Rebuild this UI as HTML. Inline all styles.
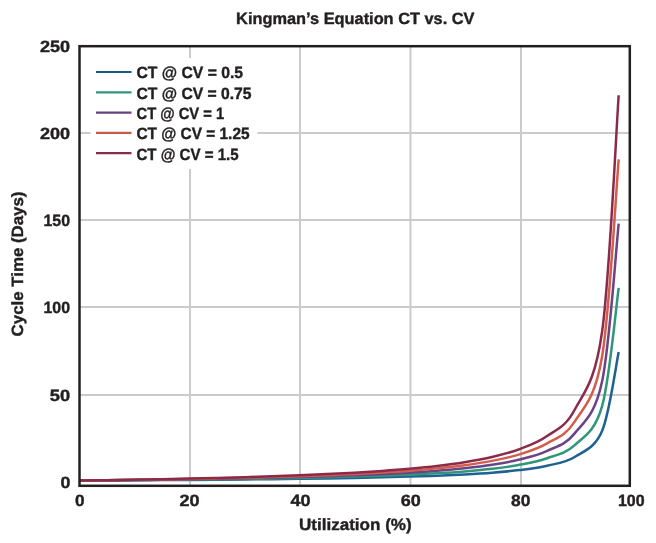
<!DOCTYPE html>
<html><head><meta charset="utf-8">
<style>
html,body{margin:0;padding:0;background:#fff;overflow:hidden;}
svg{display:block;will-change:transform;}
text{font-family:"Liberation Sans",sans-serif;font-weight:bold;fill:#231f20;text-rendering:geometricPrecision;stroke:#231f20;stroke-width:0.4px;}
</style></head><body>
<svg width="656" height="543" viewBox="0 0 656 543">
<rect width="656" height="543" fill="#fff"/>
<g stroke="#cbcbcb" stroke-width="2"><line x1="190" y1="46" x2="190" y2="486"/><line x1="300" y1="46" x2="300" y2="486"/><line x1="410.5" y1="46" x2="410.5" y2="486"/><line x1="521" y1="46" x2="521" y2="486"/><line x1="79" y1="395" x2="630" y2="395"/><line x1="79" y1="307" x2="630" y2="307"/><line x1="79" y1="220" x2="630" y2="220"/><line x1="79" y1="133" x2="630" y2="133"/></g>
<g fill="none" stroke-width="2.5" stroke-linejoin="round">
<path d="M79.20,480.55 C83.79,480.53 97.55,480.46 106.72,480.41 C115.90,480.37 125.08,480.32 134.25,480.26 C143.43,480.21 152.60,480.15 161.78,480.09 C170.95,480.03 180.12,479.97 189.30,479.90 C198.48,479.83 207.65,479.76 216.82,479.68 C226.00,479.60 235.18,479.52 244.35,479.43 C253.53,479.34 262.70,479.25 271.88,479.14 C281.05,479.04 290.22,478.93 299.40,478.81 C308.57,478.68 317.75,478.55 326.93,478.41 C336.10,478.26 345.27,478.11 354.45,477.93 C363.62,477.75 372.80,477.57 381.98,477.35 C391.15,477.13 400.32,476.90 409.50,476.62 C418.68,476.34 427.85,476.05 437.02,475.68 C446.20,475.32 455.37,474.94 464.55,474.44 C473.72,473.94 482.90,473.42 492.07,472.69 C501.25,471.96 510.43,471.23 519.60,470.07 C528.77,468.90 537.95,467.88 547.12,465.70 C556.30,463.51 565.47,462.79 574.65,456.96 C583.83,451.14 594.84,448.22 602.18,430.75 C609.52,413.27 615.94,365.22 618.69,352.11" stroke="#1d6292"/>
<path d="M79.20,480.55 C83.79,480.52 97.55,480.42 106.72,480.35 C115.90,480.27 125.08,480.20 134.25,480.12 C143.43,480.03 152.60,479.95 161.78,479.86 C170.95,479.77 180.12,479.67 189.30,479.57 C198.48,479.47 207.65,479.36 216.82,479.24 C226.00,479.12 235.18,479.00 244.35,478.87 C253.53,478.73 262.70,478.59 271.88,478.44 C281.05,478.28 290.22,478.11 299.40,477.93 C308.57,477.75 317.75,477.55 326.93,477.34 C336.10,477.12 345.27,476.89 354.45,476.62 C363.62,476.36 372.80,476.07 381.98,475.75 C391.15,475.42 400.32,475.07 409.50,474.65 C418.68,474.24 427.85,473.80 437.02,473.25 C446.20,472.70 455.37,472.13 464.55,471.38 C473.72,470.63 482.90,469.85 492.07,468.76 C501.25,467.66 510.43,466.57 519.60,464.82 C528.77,463.08 537.95,461.55 547.12,458.27 C556.30,455.00 565.47,453.90 574.65,445.17 C583.83,436.43 594.84,432.06 602.18,405.85 C609.52,379.63 615.94,307.55 618.69,287.89" stroke="#30967a"/>
<path d="M79.20,480.55 C83.79,480.51 97.55,480.37 106.72,480.28 C115.90,480.18 125.08,480.08 134.25,479.97 C143.43,479.86 152.60,479.75 161.78,479.63 C170.95,479.51 180.12,479.38 189.30,479.24 C198.48,479.10 207.65,478.96 216.82,478.81 C226.00,478.65 235.18,478.48 244.35,478.31 C253.53,478.13 262.70,477.94 271.88,477.73 C281.05,477.52 290.22,477.30 299.40,477.06 C308.57,476.81 317.75,476.55 326.93,476.26 C336.10,475.97 345.27,475.66 354.45,475.31 C363.62,474.96 372.80,474.58 381.98,474.14 C391.15,473.71 400.32,473.24 409.50,472.69 C418.68,472.13 427.85,471.54 437.02,470.82 C446.20,470.09 455.37,469.32 464.55,468.32 C473.72,467.32 482.90,466.28 492.07,464.82 C501.25,463.37 510.43,461.91 519.60,459.58 C528.77,457.25 537.95,455.21 547.12,450.85 C556.30,446.48 565.47,445.02 574.65,433.37 C583.83,421.72 594.84,415.90 602.18,380.95 C609.52,346.00 615.94,249.88 618.69,223.67" stroke="#6b4486"/>
<path d="M79.20,480.55 C83.79,480.50 97.55,480.33 106.72,480.21 C115.90,480.09 125.08,479.96 134.25,479.82 C143.43,479.69 152.60,479.55 161.78,479.40 C170.95,479.24 180.12,479.09 189.30,478.91 C198.48,478.74 207.65,478.56 216.82,478.37 C226.00,478.17 235.18,477.97 244.35,477.74 C253.53,477.52 262.70,477.28 271.88,477.02 C281.05,476.76 290.22,476.49 299.40,476.18 C308.57,475.88 317.75,475.55 326.93,475.19 C336.10,474.83 345.27,474.44 354.45,474.00 C363.62,473.56 372.80,473.09 381.98,472.54 C391.15,472.00 400.32,471.42 409.50,470.72 C418.68,470.03 427.85,469.29 437.02,468.38 C446.20,467.47 455.37,466.51 464.55,465.26 C473.72,464.01 482.90,462.71 492.07,460.89 C501.25,459.07 510.43,457.25 519.60,454.34 C528.77,451.43 537.95,448.88 547.12,443.42 C556.30,437.96 565.47,436.14 574.65,421.57 C583.83,407.01 594.84,399.73 602.18,356.04 C609.52,312.36 615.94,192.22 618.69,159.45" stroke="#d35d4b"/>
<path d="M79.20,480.55 C83.79,480.48 97.55,480.28 106.72,480.14 C115.90,479.99 125.08,479.84 134.25,479.68 C143.43,479.52 152.60,479.35 161.78,479.16 C170.95,478.98 180.12,478.79 189.30,478.59 C198.48,478.38 207.65,478.17 216.82,477.93 C226.00,477.70 235.18,477.45 244.35,477.18 C253.53,476.91 262.70,476.63 271.88,476.32 C281.05,476.01 290.22,475.68 299.40,475.31 C308.57,474.94 317.75,474.56 326.93,474.12 C336.10,473.68 345.27,473.22 354.45,472.69 C363.62,472.16 372.80,471.60 381.98,470.94 C391.15,470.29 400.32,469.59 409.50,468.76 C418.68,467.92 427.85,467.04 437.02,465.95 C446.20,464.86 455.37,463.70 464.55,462.20 C473.72,460.71 482.90,459.15 492.07,456.96 C501.25,454.78 510.43,452.59 519.60,449.10 C528.77,445.60 537.95,442.54 547.12,435.99 C556.30,429.44 565.47,427.25 574.65,409.78 C583.83,392.30 594.84,383.57 602.18,331.14 C609.52,278.72 615.94,134.55 618.69,95.23" stroke="#8c2a4a"/>
</g>
<rect x="79.5" y="46.2" width="550.3" height="439.6" fill="none" stroke="#231f20" stroke-width="2.5"/>
<rect x="90.5" y="58" width="167" height="111" fill="#fff"/>
<g stroke-width="2.2"><line x1="96" y1="72.0" x2="131.5" y2="72.0" stroke="#1b5a80"/><line x1="96" y1="92.3" x2="131.5" y2="92.3" stroke="#32977a"/><line x1="96" y1="112.6" x2="131.5" y2="112.6" stroke="#6a417f"/><line x1="96" y1="132.9" x2="131.5" y2="132.9" stroke="#c8594a"/><line x1="96" y1="153.2" x2="131.5" y2="153.2" stroke="#882a48"/></g>
<g class="t"><text x="236.10" y="24.00" font-size="16.3" textLength="238.42" lengthAdjust="spacingAndGlyphs">Kingman’s Equation CT vs. CV</text>
<text x="136.50" y="78.00" font-size="16.3" textLength="106.51" lengthAdjust="spacingAndGlyphs">CT @ CV = 0.5</text>
<text x="136.50" y="99.00" font-size="16.3" textLength="115.03" lengthAdjust="spacingAndGlyphs">CT @ CV = 0.75</text>
<text x="136.50" y="119.00" font-size="16.3" textLength="87.66" lengthAdjust="spacingAndGlyphs">CT @ CV = 1</text>
<text x="136.50" y="139.00" font-size="16.3" textLength="113.04" lengthAdjust="spacingAndGlyphs">CT @ CV = 1.25</text>
<text x="136.50" y="160.00" font-size="16.3" textLength="102.13" lengthAdjust="spacingAndGlyphs">CT @ CV = 1.5</text>
<text x="39.90" y="52.00" font-size="16.3" textLength="30.14" lengthAdjust="spacingAndGlyphs">250</text>
<text x="39.90" y="139.00" font-size="16.3" textLength="30.14" lengthAdjust="spacingAndGlyphs">200</text>
<text x="43.50" y="226.00" font-size="16.3" textLength="26.52" lengthAdjust="spacingAndGlyphs">150</text>
<text x="43.50" y="313.00" font-size="16.3" textLength="26.52" lengthAdjust="spacingAndGlyphs">100</text>
<text x="49.80" y="401.00" font-size="16.3" textLength="20.36" lengthAdjust="spacingAndGlyphs">50</text>
<text x="60.40" y="488.00" font-size="16.3" textLength="9.89" lengthAdjust="spacingAndGlyphs">0</text>
<text x="74.90" y="506.00" font-size="16.3" textLength="9.54" lengthAdjust="spacingAndGlyphs">0</text>
<text x="179.60" y="506.00" font-size="16.3" textLength="20.08" lengthAdjust="spacingAndGlyphs">20</text>
<text x="290.55" y="506.00" font-size="16.3" textLength="20.08" lengthAdjust="spacingAndGlyphs">40</text>
<text x="400.75" y="506.00" font-size="16.3" textLength="20.03" lengthAdjust="spacingAndGlyphs">60</text>
<text x="511.10" y="506.00" font-size="16.3" textLength="19.29" lengthAdjust="spacingAndGlyphs">80</text>
<text x="617.90" y="506.00" font-size="16.3" textLength="26.62" lengthAdjust="spacingAndGlyphs">100</text>
<text x="298.90" y="530.00" font-size="16.3" textLength="112.83" lengthAdjust="spacingAndGlyphs">Utilization (%)</text>
<text transform="translate(23.3,336.40) rotate(-90)" font-size="16.3" textLength="144.82" lengthAdjust="spacingAndGlyphs">Cycle Time (Days)</text></g>
</svg>
</body></html>
